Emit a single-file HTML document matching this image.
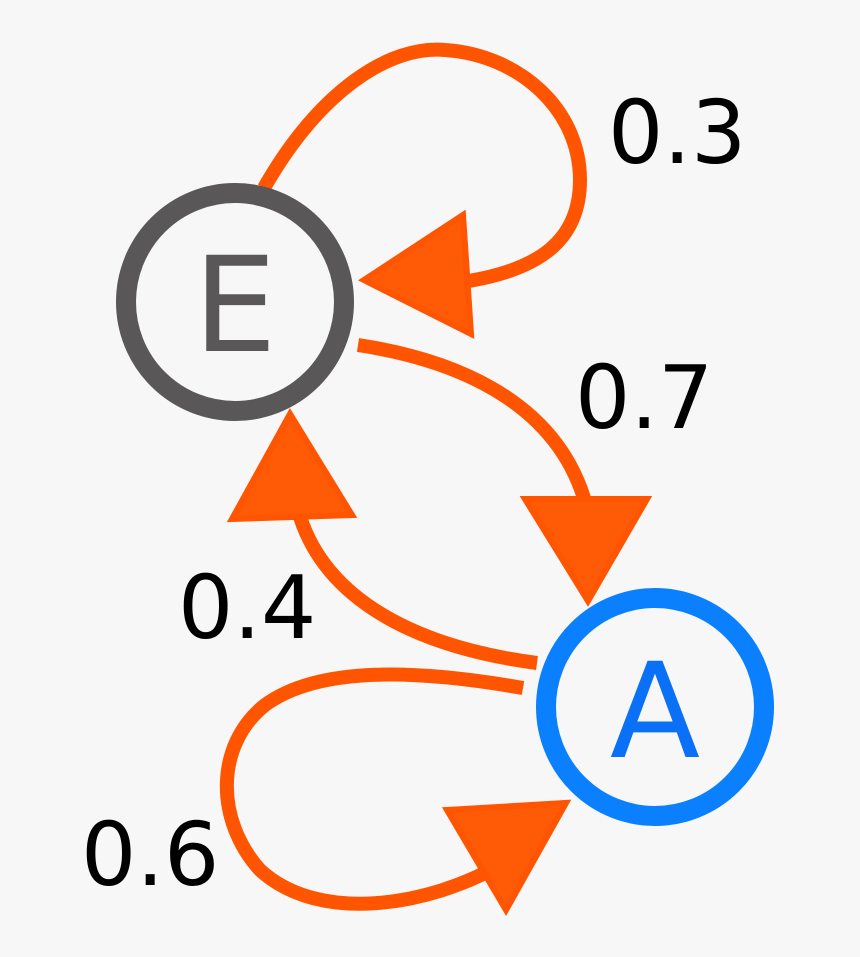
<!DOCTYPE html>
<html><head><meta charset="utf-8"><style>
html,body{margin:0;padding:0;background:#f7f7f7;}
svg{display:block}
text{font-family:"DejaVu Sans","Liberation Sans",sans-serif;}
</style></head><body>
<svg width="860" height="957" viewBox="0 0 860 957" xmlns="http://www.w3.org/2000/svg">
<rect width="860" height="957" fill="#f7f7f7"/>
<g fill="none" stroke="#ff5500" stroke-width="14" stroke-linecap="butt">
<path d="M264 188 C320 90 390 45 445 50 C520 55 580 110 580 180 C580 240 540 272 455 283"/>
<path d="M358 345 C470 362 560 410 586 505"/>
<path d="M537 663 C400 645 320 590 298 510"/>
<path d="M523 688 C420 670 320 665 265 705 C215 745 215 820 260 870 C320 925 430 905 500 865"/>
</g>
<g fill="#ff5a05" stroke="#ff5500" stroke-width="6" stroke-linejoin="miter">
<polygon points="364,280 463,215 471,334"/>
<polygon points="525,499 647,499 588,601"/>
<polygon points="290,414 232,519 352,515"/>
<polygon points="447,810 566,803 506,910"/>
</g>
<circle cx="235" cy="302" r="109" fill="none" stroke="#595757" stroke-width="20"/>
<circle cx="655" cy="707" r="109" fill="none" stroke="#0a80ff" stroke-width="20"/>
<text x="235" y="351" font-size="132" fill="#595757" text-anchor="middle">E</text>
<text x="655" y="757" font-size="132" fill="#0a70f5" text-anchor="middle">A</text>
<g font-size="87" fill="#000">
<text x="608" y="163">0.3</text>
<text x="575" y="428">0.7</text>
<text x="178" y="638">0.4</text>
<text x="81" y="885">0.6</text>
</g>
</svg>
</body></html>
